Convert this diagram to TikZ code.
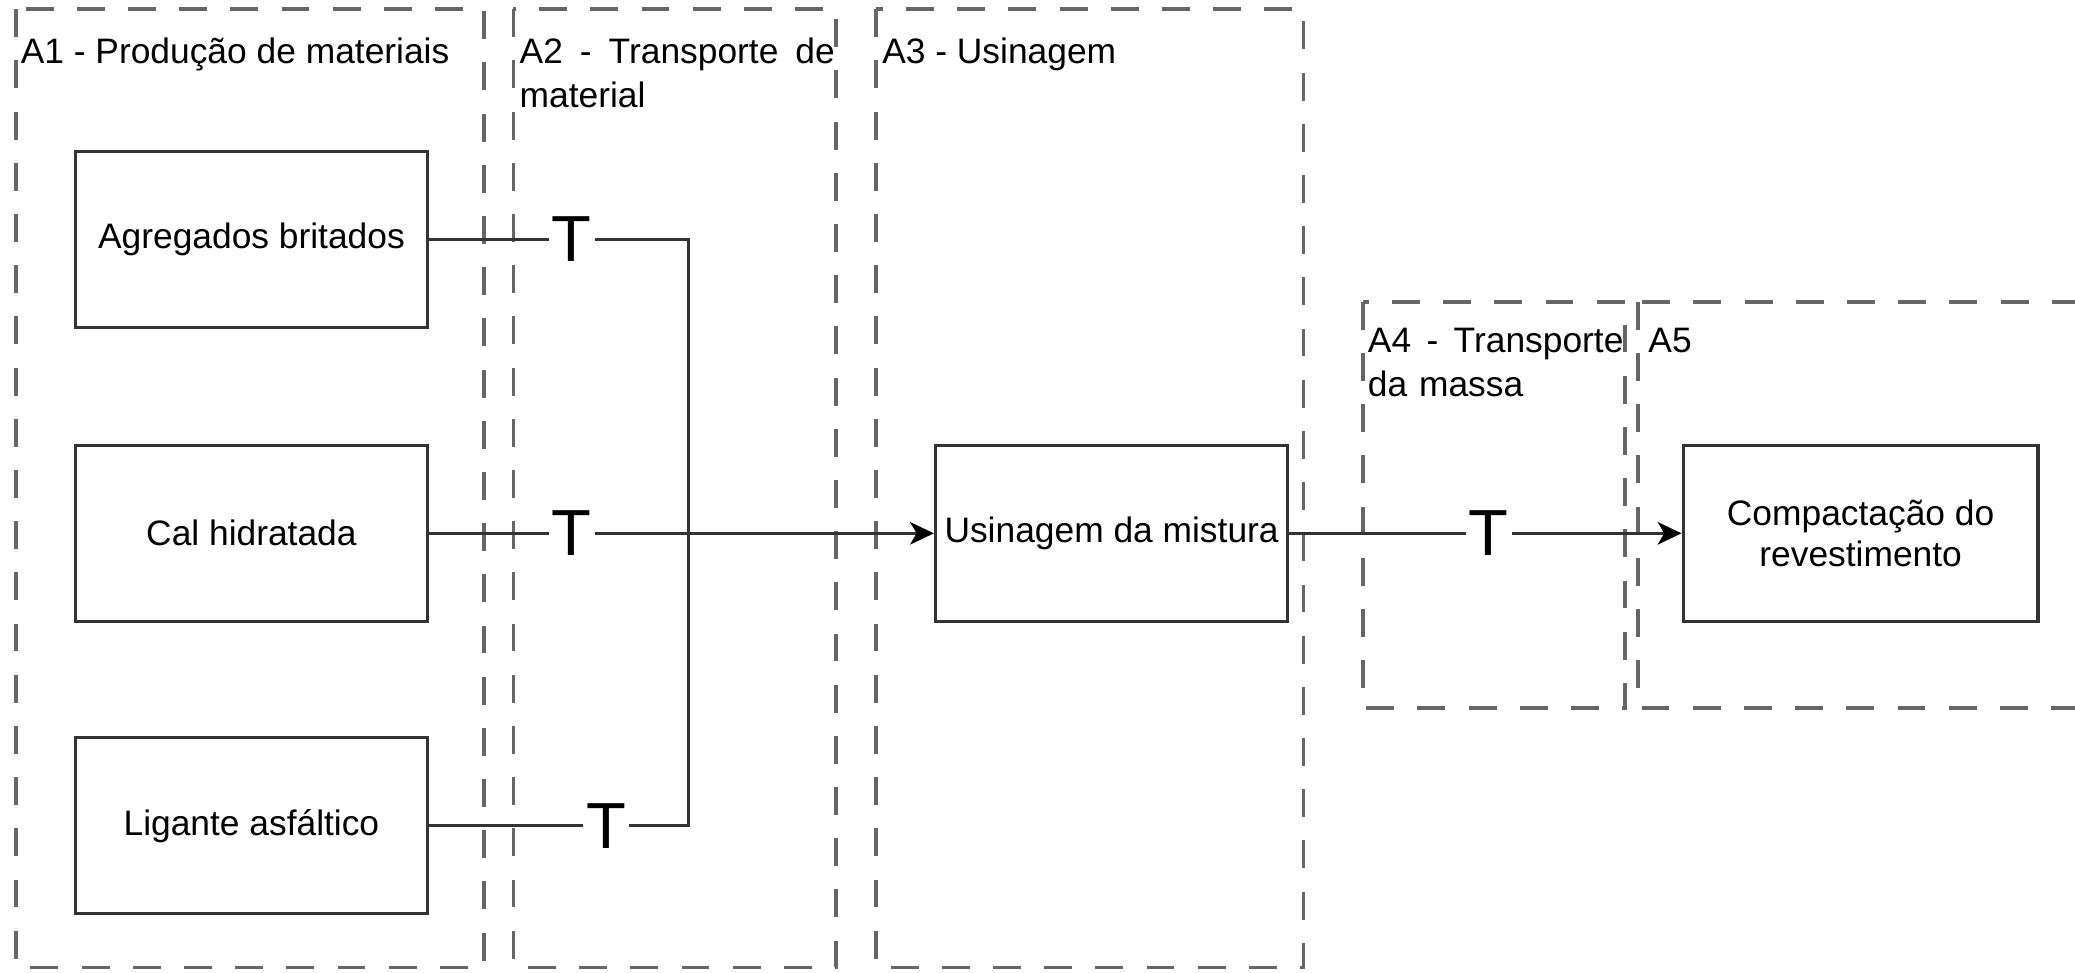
\documentclass[tikz,border=0pt]{standalone}
\usepackage{fontspec}
\setmainfont{Liberation Sans}
\usetikzlibrary{arrows.meta}

\tikzset{
	etapa/.style={draw=black!60, line width=0.8pt, dash pattern=on 6pt off 5pt},
	caixa/.style={draw=black!80, line width=0.7pt, fill=white, inner xsep=1pt, minimum width=2.66cm, minimum height=1.33cm, align=center, font=\fontsize{7.6}{9}\selectfont},
	rotulo/.style={inner sep=0pt, anchor=north west, align=left, font=\fontsize{7.6}{9.5}\selectfont},
	transp/.style={fill=white, inner sep=0.5pt, font=\fontsize{14}{14}\selectfont},
	liga/.style={draw=black!80, line width=0.7pt},
	seta/.style={-{Stealth[length=0.18cm,width=0.17cm,inset=0.05cm,color=black]}},
}

\begin{document}
\begin{tikzpicture}[x=0.01cm, y=-0.01cm]
	\clip (0,0) rectangle (1568,735);
	% etapas
	\draw[etapa] (12,7) rectangle (366,731);
	\draw[etapa] (388,7) rectangle (632,731);
	\draw[etapa] (662,7) rectangle (985,731);
	\draw[etapa] (1030,228) rectangle (1228,535);
	\draw[etapa] (1238,228) rectangle (1620,535);
	
	\node[rotulo] (r1) at (15,28) {A1 - Produção de materiais};
	\node[rotulo, text width=2.38cm] (r2) at (392,28) {A2\hfill-\hfill Transporte\hfill de\\material};
	\node[rotulo] (r3) at (666,28) {A3 - Usinagem};
	\node[rotulo, text width=1.93cm] (r4) at (1033,247) {A4\hfill-\hfill Transporte\\da massa};
	\node[rotulo] (r5) at (1245,247) {A5};
	
	% processos
	\node[caixa] (agr) at (190,181) {Agregados britados};
	\node[caixa] (cal) at (190,403) {Cal hidratada};
	\node[caixa] (lig) at (190,624) {Ligante asfáltico};
	\node[caixa] (usi) at (840,403) {Usinagem da mistura};
	\node[caixa, minimum width=2.68cm] (comp) at (1406,403) {Compactação do\\revestimento};
	
	% transportes
	\node[transp] (t1) at (432,181) {T};
	\node[transp] (t2) at (432,403) {T};
	\node[transp] (t3) at (458,624) {T};
	\node[transp] (t4) at (1125,403) {T};
	
	\coordinate (j1) at (520,181);
	\coordinate (j2) at (520,624);
	
	\draw[liga] (agr) -- (t1) -- (j1) -- (j2) -- (t3) -- (lig);
	\draw[liga, seta] (cal) -- (t2) -- (usi);
	\draw[liga, seta] (usi) -- (t4) -- (comp);
\end{tikzpicture}
\end{document}
